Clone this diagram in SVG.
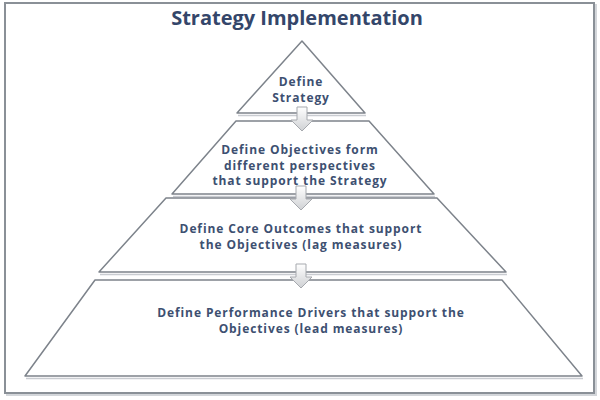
<svg xmlns="http://www.w3.org/2000/svg" width="600" height="400" viewBox="0 0 600 400">
<style>
.lvl{fill:#ffffff;stroke:#7d838b;stroke-width:1.5;stroke-linejoin:round}
.shadow{fill:none;stroke:#c9ccd1;stroke-width:1.5}
.lbl{font-family:"Open Sans","DejaVu Sans",sans-serif;font-weight:bold;font-size:12px;fill:#3d5071;text-anchor:middle;letter-spacing:0.9px}
.title{font-family:"Open Sans","DejaVu Sans",sans-serif;font-weight:bold;font-size:20px;fill:#34466a;text-anchor:middle}
.arrow{fill:url(#ag);stroke:#a6a9ae;stroke-width:1}
</style>
<defs>
<linearGradient id="ag" x1="0" y1="0" x2="0" y2="1">
<stop offset="0" stop-color="#ffffff"/>
<stop offset="1" stop-color="#cfd1d4"/>
</linearGradient>
<path id="arr" d="M-5,0 V13 H-11 L0,24 L11,13 H5 V0 Z"/>
</defs>
<rect x="0" y="0" width="600" height="400" fill="#ffffff"/>
<rect x="7" y="5" width="589" height="390" fill="none" stroke="#d3d6da" stroke-width="2"/>
<rect x="5" y="3" width="589" height="390" fill="#ffffff" stroke="#8a9097" stroke-width="2"/>
<text class="title" x="297" y="25">Strategy Implementation</text>

<g id="level1">
<polygon class="lvl" points="302,41 365,113 237,113"/>
<line class="shadow" x1="238" y1="115.5" x2="366" y2="115.5"/>
<text class="lbl" x="301" y="86">Define</text>
<text class="lbl" x="301" y="102">Strategy</text>
</g>

<g id="level2">
<polygon class="lvl" points="236,121 369,121 434,194 172,194"/>
<line class="shadow" x1="173" y1="196.5" x2="435" y2="196.5"/>
<text class="lbl" x="300" y="154">Define Objectives form</text>
<text class="lbl" x="300" y="169.5">different perspectives</text>
<text class="lbl" x="300" y="185">that support  the Strategy</text>
</g>

<g id="level3">
<polygon class="lvl" points="166,198 437,198 506,272 99,272"/>
<line class="shadow" x1="100" y1="274.5" x2="507" y2="274.5"/>
<text class="lbl" x="301" y="233">Define Core Outcomes that support</text>
<text class="lbl" x="301" y="249">the Objectives (lag measures)</text>
</g>

<g id="level4">
<polygon class="lvl" points="95,280 502,280 582,376 25,376"/>
<line class="shadow" x1="26" y1="378.5" x2="583" y2="378.5"/>
<text class="lbl" x="311" y="317">Define Performance Drivers that support  the</text>
<text class="lbl" x="311" y="332.5">Objectives (lead measures)</text>
</g>

<g id="connectors">
<use href="#arr" class="arrow" transform="translate(302,107)"/>
<use href="#arr" class="arrow" transform="translate(301,186)"/>
<use href="#arr" class="arrow" transform="translate(301,264)"/>
</g>
</svg>
